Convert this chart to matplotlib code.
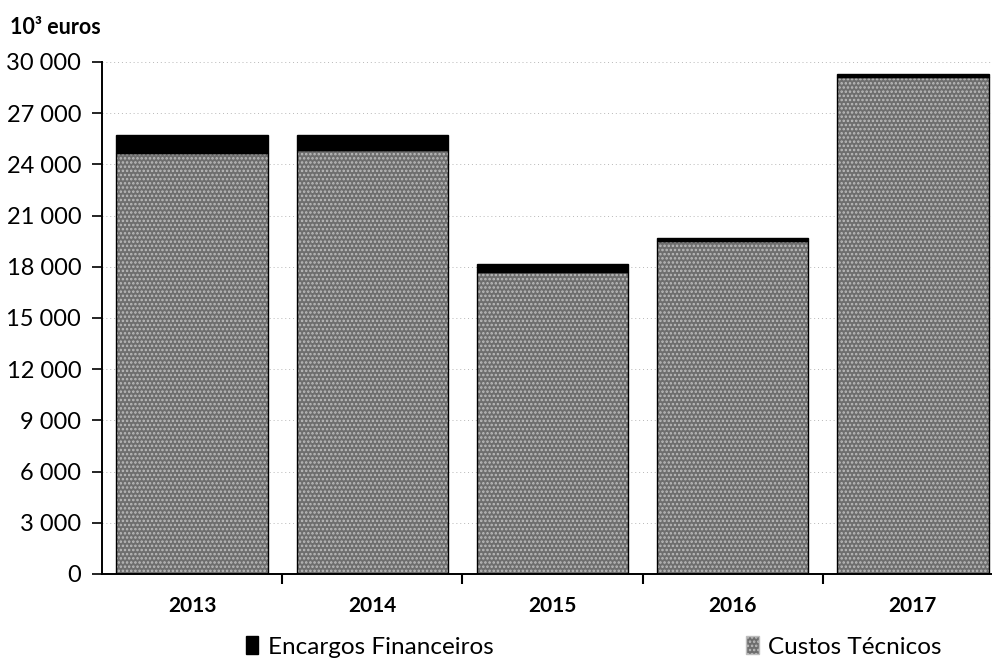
import matplotlib
matplotlib.use("Agg")
import matplotlib.pyplot as plt
from matplotlib.patches import Patch
from matplotlib.ticker import FixedLocator, FuncFormatter
import numpy as np

years = ["2013", "2014", "2015", "2016", "2017"]
custos_tecnicos = [24650, 24850, 17700, 19530, 29100]
encargos_financeiros = [1100, 870, 450, 150, 200]
y_ticks = [0, 3000, 6000, 9000, 12000, 15000, 18000, 21000, 24000, 27000, 30000]

plt.rcParams["font.family"] = ["Lato", "DejaVu Sans"]
plt.rcParams["hatch.linewidth"] = 1.2

fig = plt.figure(figsize=(9.92, 6.6), dpi=100)
ax = fig.add_axes([102 / 992, 1 - 574 / 660, (1003 - 102) / 992, (574 - 62) / 660])

x = np.arange(len(years))
width = 0.84
fill_gray = "#6e6e6e"
dot_gray = "#bdbdbd"

# textured lower segment: grey fill with stipple hatch, then a crisp outline
ax.bar(x, custos_tecnicos, width, color=fill_gray, edgecolor=dot_gray,
       hatch="....", linewidth=0, zorder=2)
ax.bar(x, custos_tecnicos, width, fill=False, edgecolor="black",
       linewidth=1.0, zorder=3)
ax.bar(x, encargos_financeiros, width, bottom=custos_tecnicos,
       color="black", edgecolor="black", linewidth=1.0, zorder=3)

ax.set_xlim(-0.5, len(years) - 0.5)
ax.set_ylim(0, 30000)

ax.yaxis.set_major_locator(FixedLocator(y_ticks))
ax.yaxis.set_major_formatter(FuncFormatter(lambda v, p: f"{int(v):,}".replace(",", " ")))
ax.tick_params(axis="y", direction="out", length=7, width=1.2, pad=8,
               labelsize=17)

ax.set_xticks(x)
ax.set_xticklabels(years, fontsize=15, fontweight="bold")
ax.tick_params(axis="x", which="major", length=0, pad=16)
ax.set_xticks(np.arange(0.5, len(years) - 0.5, 1.0), minor=True)
ax.tick_params(axis="x", which="minor", direction="out", length=7, width=1.5)

ax.grid(axis="y", color="#b8b8b8", linestyle=(0, (1, 3)), linewidth=0.7, zorder=0)
ax.set_axisbelow(True)

for side in ("top", "right"):
    ax.spines[side].set_visible(False)
ax.spines["left"].set_linewidth(1.4)
ax.spines["bottom"].set_linewidth(1.4)

fig.text(10 / 992, 1 - 28 / 660, "10³ euros", fontsize=15.5, fontweight="bold",
         va="center", ha="left")

handles = [
    Patch(facecolor="black", edgecolor="black", label="Encargos Financeiros"),
    Patch(facecolor=fill_gray, edgecolor=dot_gray, hatch="....",
          label="Custos Técnicos"),
]
fig.legend(handles=handles, loc="center left", bbox_to_anchor=(246 / 992, 1 - 647 / 660),
           ncol=2, frameon=False, fontsize=17.5, handlelength=0.5, handleheight=0.7,
           handletextpad=0.4, columnspacing=10.4, borderaxespad=0, borderpad=0)

fig.savefig("out.png", dpi=100)
